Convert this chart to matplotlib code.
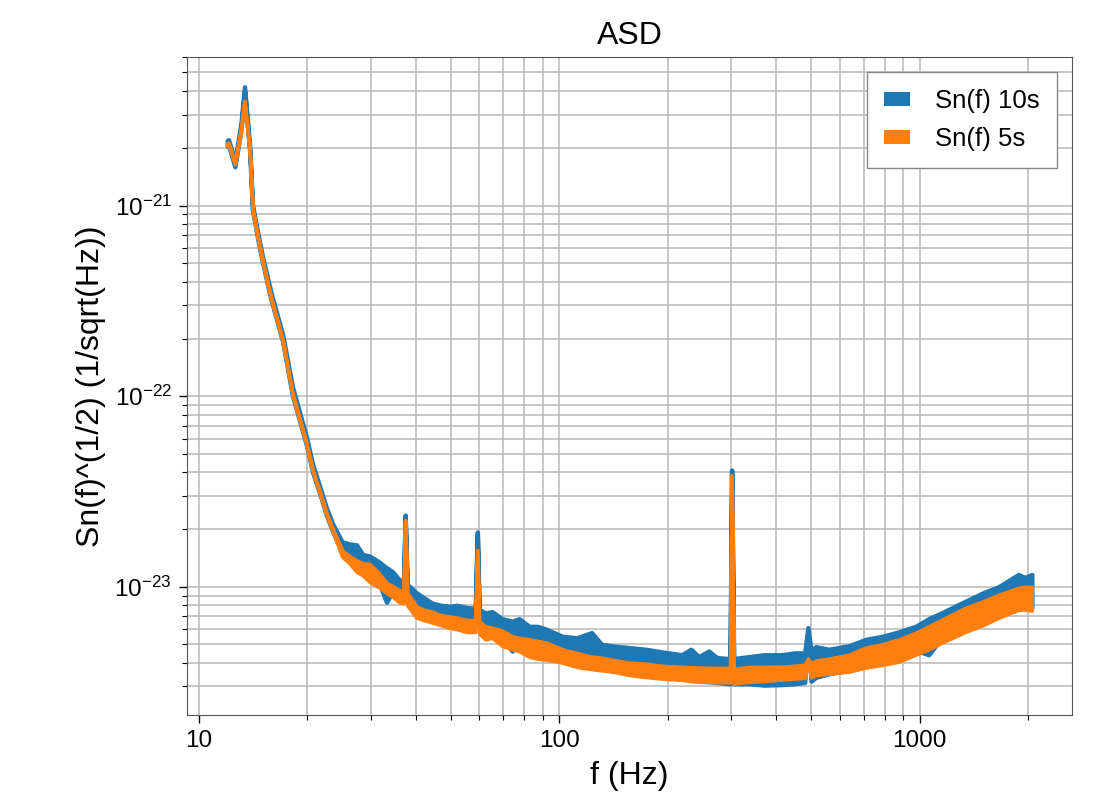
import numpy as np
import matplotlib
matplotlib.use("Agg")
from matplotlib import pyplot as plt
from matplotlib.patches import Patch
from matplotlib.ticker import NullFormatter

plt.rcParams['font.family'] = ['Liberation Sans', 'DejaVu Sans']
plt.rcParams['mathtext.default'] = 'regular'

# frequency bins (Hz)
freqs = [12.0, 12.1, 12.6, 13.1, 13.4, 13.85, 14.1, 14.6, 15.0, 15.7,
         16.0, 17.1, 18.2, 19.9, 20.7, 21.9, 22.6, 23.5, 25.0, 26.2,
         27.4, 28.5, 29.8, 31.5, 33.2, 34.5, 36.0, 37.0, 37.4, 37.9,
         40.2, 42.0, 44.5, 47.0, 49.6, 52.0, 55.3, 58.5, 59.3, 60.0,
         62.4, 65.2, 69.5, 74.1, 77.5, 82.6, 87.0, 92.0, 102, 112,
         123, 131, 140, 156, 174, 193, 219, 232, 244, 260,
         274, 298, 301, 305, 336, 370, 415, 450, 480, 490,
         500, 515, 560, 636, 709, 790, 875, 975, 1060, 1151,
         1341, 1500, 1655, 1880, 1960, 2048]

# ASD envelopes, units of 1e-23 / sqrt(Hz)
asd_10s_hi = [220, 222, 172, 270, 420, 205, 101, 71, 55, 38,
              33, 21, 11.2, 6.1, 4.4, 3.15, 2.6, 2.15, 1.72, 1.68,
              1.66, 1.48, 1.45, 1.36, 1.26, 1.2, 1.09, 1.05, 2.38, 1.03,
              0.93, 0.88, 0.82, 0.80, 0.79, 0.80, 0.78, 0.77, 1.94, 0.76,
              0.73, 0.74, 0.68, 0.66, 0.68, 0.62, 0.62, 0.60, 0.55, 0.54,
              0.575, 0.50, 0.49, 0.48, 0.47, 0.455, 0.44, 0.47, 0.43, 0.46,
              0.425, 0.42, 4.1, 0.42, 0.43, 0.44, 0.44, 0.45, 0.45, 0.61,
              0.46, 0.485, 0.47, 0.49, 0.53, 0.55, 0.58, 0.62, 0.68, 0.73,
              0.84, 0.93, 1.0, 1.16, 1.12, 1.16]
asd_10s_lo = [205, 208, 160, 250, 400, 192, 95, 66, 51.5, 35,
              30.5, 19.3, 10.1, 5.55, 4.0, 2.9, 2.38, 1.97, 1.5, 1.42,
              1.32, 1.26, 1.14, 1.07, 0.83, 0.95, 0.88, 0.87, 2.3, 0.85,
              0.76, 0.74, 0.72, 0.70, 0.69, 0.68, 0.67, 0.66, 1.85, 0.64,
              0.58, 0.60, 0.54, 0.46, 0.52, 0.50, 0.49, 0.48, 0.45, 0.43,
              0.42, 0.40, 0.36, 0.38, 0.365, 0.35, 0.335, 0.325, 0.32, 0.318,
              0.315, 0.31, 3.9, 0.31, 0.31, 0.305, 0.307, 0.31, 0.315, 0.58,
              0.32, 0.335, 0.35, 0.365, 0.39, 0.41, 0.43, 0.465, 0.44, 0.54,
              0.617, 0.67, 0.73, 0.786, 0.78, 0.78]
asd_5s_hi = [212, 214, 170, 255, 355, 198, 98, 68, 53, 36,
             31.3, 19.8, 10.4, 5.7, 4.12, 2.98, 2.45, 2.03, 1.56, 1.45,
             1.38, 1.33, 1.32, 1.19, 1.05, 1.01, 0.96, 0.95, 2.24, 0.93,
             0.79, 0.76, 0.74, 0.71, 0.70, 0.69, 0.67, 0.67, 1.56, 0.66,
             0.62, 0.61, 0.59, 0.55, 0.54, 0.53, 0.52, 0.51, 0.47, 0.45,
             0.43, 0.425, 0.415, 0.40, 0.395, 0.385, 0.38, 0.378, 0.377, 0.376,
             0.375, 0.375, 3.86, 0.37, 0.38, 0.38, 0.381, 0.385, 0.39, 0.42,
             0.395, 0.41, 0.42, 0.44, 0.48, 0.50, 0.53, 0.574, 0.62, 0.672,
             0.776, 0.84, 0.908, 0.988, 1.0, 1.0]
asd_5s_lo = [206, 210, 165, 245, 345, 194, 96, 66.5, 52, 35.3,
             30.8, 19.4, 10.2, 5.6, 4.05, 2.92, 2.4, 1.98, 1.44, 1.33,
             1.2, 1.15, 1.06, 1.0, 0.93, 0.89, 0.83, 0.82, 2.2, 0.8,
             0.69, 0.67, 0.65, 0.63, 0.61, 0.60, 0.58, 0.58, 1.5, 0.57,
             0.53, 0.54, 0.49, 0.47, 0.46, 0.43, 0.42, 0.415, 0.40, 0.38,
             0.37, 0.365, 0.36, 0.345, 0.336, 0.33, 0.325, 0.32, 0.318, 0.317,
             0.316, 0.315, 3.7, 0.31, 0.318, 0.32, 0.326, 0.33, 0.333, 0.40,
             0.335, 0.345, 0.35, 0.359, 0.377, 0.39, 0.405, 0.441, 0.47, 0.509,
             0.581, 0.63, 0.688, 0.758, 0.76, 0.75]

labels = ['Sn(f) 10s', 'Sn(f) 5s']
colors = ['#1f77b4', '#ff7f0e']
x_major = [10, 100, 1000]
y_major = [1e-23, 1e-22, 1e-21]
scale = 1e-23

fig = plt.figure(figsize=(10.96, 8.11), dpi=100)
ax = fig.add_axes([187 / 1096, 1 - 715 / 811, 885 / 1096, 658 / 811])

f = np.array(freqs)
series = [(asd_10s_lo, asd_10s_hi, 3.2), (asd_5s_lo, asd_5s_hi, 2.6)]
for (lo, hi, lw), c in zip(series, colors):
    ax.fill_between(f, np.array(lo) * scale, np.array(hi) * scale,
                    facecolor=c, edgecolor=c, linewidth=lw, joinstyle='round')

ax.set_xscale('log')
ax.set_yscale('log')
ax.grid(True, which='both', color='#b8b8b8', linewidth=1.1)
ax.set_axisbelow(True)

ax.tick_params(which='major', labelsize=17.5, length=6, width=1.0, pad=5)
ax.tick_params(which='minor', length=3.5, width=0.8)
ax.set_xticks(x_major)
ax.set_xticklabels([str(v) for v in x_major])
ax.set_yticks(y_major)
ax.xaxis.set_minor_formatter(NullFormatter())
ax.yaxis.set_minor_formatter(NullFormatter())

ax.set_title('ASD', fontsize=23, pad=9)
ax.set_xlabel('f (Hz)', fontsize=23, labelpad=6)
ax.set_ylabel('Sn(f)^(1/2) (1/sqrt(Hz))', fontsize=23, labelpad=6)

handles = [Patch(facecolor=c, edgecolor='none') for c in colors]
ax.legend(handles, labels, loc='upper right', fontsize=18.5, fancybox=False,
          edgecolor='#888888', framealpha=1, handlelength=1.0, handleheight=0.45,
          handletextpad=1.0, borderpad=0.65, borderaxespad=0.6, labelspacing=0.55)

for s in ax.spines.values():
    s.set_color('#555555')

fig.savefig('out.png', dpi=100)
